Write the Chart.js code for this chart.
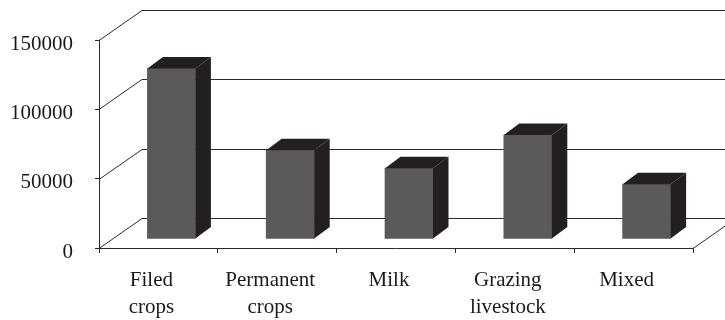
<!DOCTYPE html>
<html>
<head>
<meta charset="utf-8">
<script src="https://cdn.jsdelivr.net/npm/chart.js@4/dist/chart.umd.min.js"></script>
<style>
  html, body { margin: 0; padding: 0; background: #ffffff; }
  #wrap { width: 725px; height: 320px; }
</style>
</head>
<body>
<div id="wrap"><canvas id="chart" width="725" height="320"></canvas></div>
<script>
// Farm types and their values
const categories = [['Filed', 'crops'], ['Permanent', 'crops'], 'Milk', ['Grazing', 'livestock'], 'Mixed'];
const farmValues = [123000, 64000, 51000, 75000, 39500];
const yTicks = [0, 50000, 100000, 150000];

// Oblique projection offsets for the pseudo-3D look
const WALL_DX = 43, WALL_DY = -30;     // depth of the whole plot box
const FACE_DX = 13, FACE_DY = -9;      // where the bar front faces sit inside the box
const BAR_DX = 15.5, BAR_DY = -11.5;   // depth of each bar

const lineColor = '#2b2b2b';
const faceColor = '#5a5a5c';
const darkColor = '#231f20';

const frame3d = {
  id: 'frame3d',
  beforeDatasetsDraw(chart) {
    const { ctx, chartArea: a, scales: { y } } = chart;
    ctx.save();
    ctx.strokeStyle = lineColor;
    ctx.lineWidth = 1;
    // side-wall diagonals and back-wall gridlines at each tick value
    yTicks.forEach(v => {
      const py = Math.round(y.getPixelForValue(v)) + 0.5;
      ctx.beginPath();
      ctx.moveTo(a.left, py);
      ctx.lineTo(a.left + WALL_DX, py + WALL_DY);
      ctx.lineTo(a.right + WALL_DX + 40, py + WALL_DY);
      ctx.stroke();
    });
    // right edge of the floor
    const fy = Math.round(a.bottom) + 0.5;
    ctx.beginPath();
    ctx.moveTo(a.right, fy);
    ctx.lineTo(a.right + WALL_DX, fy + WALL_DY);
    ctx.stroke();
    ctx.restore();
    // shift the bar front faces into the depth of the box
    ctx.save();
    ctx.translate(FACE_DX, FACE_DY);
  },
  afterDatasetsDraw(chart) {
    const { ctx } = chart;
    ctx.restore();
    ctx.save();
    ctx.fillStyle = darkColor;
    chart.getDatasetMeta(0).data.forEach(bar => {
      const { x, y, base, width } = bar.getProps(['x', 'y', 'base', 'width'], true);
      const l = x - width / 2 + FACE_DX, r = x + width / 2 + FACE_DX;
      const t = y + FACE_DY, b = base + FACE_DY;
      // side face
      ctx.beginPath();
      ctx.moveTo(r, t);
      ctx.lineTo(r + BAR_DX, t + BAR_DY);
      ctx.lineTo(r + BAR_DX, b + BAR_DY);
      ctx.lineTo(r, b);
      ctx.closePath();
      ctx.fill();
      // top face
      ctx.beginPath();
      ctx.moveTo(l, t);
      ctx.lineTo(l + BAR_DX, t + BAR_DY);
      ctx.lineTo(r + BAR_DX, t + BAR_DY);
      ctx.lineTo(r, t);
      ctx.closePath();
      ctx.fill();
    });
    ctx.restore();
  }
};

const serifFamily = '"Liberation Serif", "Times New Roman", serif';

new Chart(document.getElementById('chart'), {
  type: 'bar',
  data: {
    labels: categories,
    datasets: [{
      data: farmValues,
      backgroundColor: faceColor,
      borderWidth: 0,
      barThickness: 48,
      clip: false
    }]
  },
  plugins: [frame3d],
  options: {
    responsive: false,
    animation: false,
    devicePixelRatio: 1,
    layout: { padding: { top: 40, right: 32, left: 0, bottom: 0 } },
    plugins: { legend: { display: false }, tooltip: { enabled: false } },
    scales: {
      x: {
        grid: { display: true, drawOnChartArea: false, drawTicks: true, tickLength: 5, color: lineColor, offset: true },
        border: { display: true, color: lineColor, width: 1 },
        ticks: { color: '#1a1a1a', font: { family: serifFamily, size: 21, lineHeight: 1.3 }, padding: 14, maxRotation: 0, autoSkip: false, labelOffset: -7 },
        afterFit(scale) { scale.height = 72; }
      },
      y: {
        min: 0,
        max: 150000,
        afterBuildTicks(scale) { scale.ticks = yTicks.map(v => ({ value: v })); },
        grid: { display: true, drawOnChartArea: false, drawTicks: true, tickLength: 4, color: lineColor },
        border: { display: true, color: lineColor, width: 1 },
        ticks: { color: '#1a1a1a', font: { family: serifFamily, size: 21 }, padding: 22, labelOffset: 4, callback: v => String(v) },
        afterFit(scale) { scale.width = 99; }
      }
    }
  }
});
</script>
</body>
</html>
